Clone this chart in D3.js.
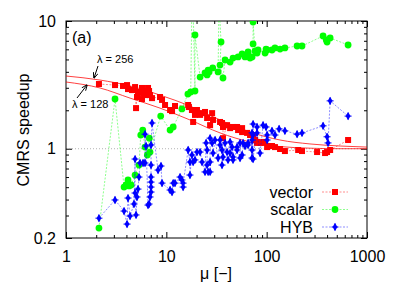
<!DOCTYPE html>
<html>
<head>
<meta charset="utf-8">
<script src="https://cdn.jsdelivr.net/npm/d3@7"></script>
<style>
  body { margin: 0; background: #fff; }
  svg { display: block; font-family: "Liberation Sans", Arial, sans-serif; }
</style>
</head>
<body>
<div id="app"></div>
<script>
// data: [mu, speedup]
const vector = [[2.13,3.21],[3.08,3.15],[3.70,3.10],[4.06,3.15],[4.15,2.93],[4.55,2.88],[4.66,2.88],[4.88,3.04],[4.99,2.08],[5.10,2.54],[5.22,2.78],[5.47,2.78],[5.72,2.99],[5.72,2.45],[5.86,2.73],[6.13,2.63],[6.28,2.83],[6.57,2.99],[6.73,2.83],[6.88,2.63],[7.20,2.49],[8.65,2.54],[9.06,2.41],[9.71,2.20],[10.9,2.01],[11.4,1.97],[12.2,2.16],[16.5,2.20],[16.8,2.12],[18.0,2.01],[18.5,1.62],[19.3,1.84],[20.2,2.01],[21.7,1.84],[22.7,1.90],[24.3,1.94],[25.5,1.74],[27.3,1.53],[28.6,1.90],[29.2,1.68],[34.3,1.62],[35.9,1.59],[36.7,1.48],[36.7,1.21],[40.3,1.53],[43.2,1.45],[46.2,1.48],[50.7,1.48],[51.9,1.40],[56.9,1.45],[56.9,1.35],[63.8,1.33],[68.3,1.28],[73.2,1.28],[76.6,1.17],[80.2,1.13],[80.2,1.11],[85.9,1.11],[92.1,1.13],[96.4,1.11],[101,1.03],[108,1.05],[113,1.05],[121,1.03],[136,0.995],[152,0.959],[206,0.977],[225,0.959],[318,0.942],[382,0.925],[400,0.942],[429,0.977],[648,1.17]];

// values above 10 are the off-scale points whose lines leave the top
const scalar = [[2.13,0.239],[3.08,2.45],[3.79,0.501],[3.97,0.520],[4.15,0.569],[4.25,0.511],[4.45,0.520],[4.88,0.622],[5.34,0.745],[5.56,1.28],[5.82,1.40],[6.13,1.03],[6.47,0.893],[6.77,1.21],[6.88,0.942],[8.79,1.80],[10.9,1.40],[11.7,1.48],[14.3,2.05],[16.4,2.68],[17.5,2.78],[18.0,14],[18.5,13],[19.3,2.83],[19.3,7.77],[21.7,3.64],[24.3,3.92],[25.5,3.78],[26.1,4.13],[26.7,3.99],[29.0,4.29],[32.8,3.99],[33.5,14],[35.1,6.85],[34.3,4.52],[36.7,3.58],[38.5,4.95],[43.2,4.77],[46.2,5.13],[51.9,5.23],[56.9,5.52],[60.9,5.23],[63.8,5.42],[65.3,5.72],[68.3,5.13],[71.5,5.23],[73.2,6.61],[73.2,9.82],[76.6,5.82],[80.2,5.61],[82.1,5.93],[96.4,5.61],[98.6,6.03],[101,5.93],[113,5.93],[121,6.15],[136,6.03],[152,6.15],[201,6.37],[225,6.37],[365,7.63],[393,7.10],[400,6.85],[429,7.36],[648,6.49]];

const hyb = [[2.13,0.286],[3.08,0.397],[3.79,0.325],[4.06,0.257],[4.15,0.411],[4.35,0.297],[4.76,0.369],[4.88,0.830],[4.88,0.450],[4.99,0.303],[5.10,0.419],[5.22,0.483],[5.34,0.600],[5.47,0.773],[5.86,0.773],[6.13,0.773],[6.13,1.30],[6.28,1.05],[6.57,0.362],[6.73,0.369],[6.88,0.419],[7.04,0.458],[7.04,0.501],[7.04,0.548],[7.04,0.600],[7.04,0.745],[7.04,1.07],[7.20,1.59],[8.27,0.681],[8.85,0.732],[9.06,0.538],[10.9,0.475],[11.4,0.458],[11.7,0.538],[12.2,0.538],[13.7,0.600],[14.3,0.569],[14.7,0.501],[14.7,0.538],[16.5,0.977],[17.2,0.787],[17.2,0.622],[18.0,0.893],[18.5,0.787],[19.3,0.817],[20.2,0.942],[21.7,0.942],[22.7,0.787],[24.3,0.658],[24.9,1.11],[25.5,0.977],[25.5,0.745],[26.1,0.658],[27.3,0.658],[27.3,0.787],[27.3,1.21],[28.6,1.11],[29.2,0.925],[30.6,1.17],[32.8,0.846],[34.3,1.07],[34.3,1.17],[35.9,0.977],[35.9,0.745],[36.7,0.861],[38.5,1.11],[40.3,0.942],[41.2,0.817],[43.2,0.925],[43.2,1.13],[45.2,1.03],[46.2,0.861],[46.2,0.817],[50.7,0.977],[50.7,1.03],[54.3,1.11],[54.3,0.846],[56.9,0.893],[58.2,1.11],[60.9,1.05],[65.3,1.11],[65.3,1.07],[71.5,1.17],[71.5,0.846],[71.5,1.33],[71.5,0.977],[73.2,1.56],[73.2,1.28],[73.2,0.830],[80.2,1.48],[80.2,1.33],[85.9,0.925],[92.1,1.53],[98.6,1.48],[101,1.28],[101,1.17],[113,1.38],[121,1.28],[133,1.43],[152,1.38],[201,1.30],[225,1.33],[365,1.51],[400,1.24],[409,1.11],[429,2.37],[648,1.80]];

// model curves
const curveMu = [1, 2.18, 4.35, 8.65, 17.2, 34.3, 68.3, 136, 270, 539, 1000];
const lambda256 = [3.71, 3.45, 3.10, 2.63, 2.16, 1.68, 1.35, 1.17, 1.09, 1.05, 1.03];
const lambda128 = [3.33, 2.99, 2.49, 2.08, 1.68, 1.33, 1.13, 1.04, 1.01, 1.0, 1.0];

const xMajor = [1, 10, 100, 1000];
const xMinor = [2,3,4,5,6,7,8,9,20,30,40,50,60,70,80,90,200,300,400,500,600,700,800,900];
const yMajor = [0.2, 1, 10];
const yMinor = [0.3,0.4,0.5,0.6,0.7,0.8,0.9,2,3,4,5,6,7,8,9];

const W = 407, H = 285;
const m = { left: 66, top: 21, right: 40, bottom: 47 };
const iw = W - m.left - m.right, ih = H - m.top - m.bottom;

const svg = d3.select("#app").append("svg").attr("width", W).attr("height", H);

const x = d3.scaleLog().domain([1, 1000]).range([0, iw]);
const y = d3.scaleLog().domain([0.2, 10]).range([ih, 0]);

const g = svg.append("g").attr("transform", `translate(${m.left},${m.top})`);

svg.append("clipPath").attr("id", "clip")
  .append("rect").attr("x", m.left).attr("y", m.top).attr("width", iw).attr("height", ih);

// axes: major and minor ticks, inward, mirrored
const fmt = (d) => String(d);
g.append("g").attr("transform", `translate(0,${ih})`)
  .call(d3.axisBottom(x).tickValues(xMajor).tickFormat(fmt).tickSize(-6).tickPadding(13));
g.append("g").attr("transform", `translate(0,${ih})`)
  .call(d3.axisBottom(x).tickValues(xMinor).tickFormat("").tickSize(-3));
g.append("g").call(d3.axisTop(x).tickValues(xMajor).tickFormat("").tickSize(-6));
g.append("g").call(d3.axisTop(x).tickValues(xMinor).tickFormat("").tickSize(-3));

g.append("g")
  .call(d3.axisLeft(y).tickValues(yMajor).tickFormat(fmt).tickSize(-6).tickPadding(10));
g.append("g").call(d3.axisLeft(y).tickValues(yMinor).tickFormat("").tickSize(-3));
g.append("g").attr("transform", `translate(${iw},0)`)
  .call(d3.axisRight(y).tickValues(yMajor).tickFormat("").tickSize(-6));
g.append("g").attr("transform", `translate(${iw},0)`)
  .call(d3.axisRight(y).tickValues(yMinor).tickFormat("").tickSize(-3));

g.selectAll(".domain").remove();
g.selectAll(".tick line").attr("stroke", "#000");
g.selectAll(".tick text").attr("font-size", 16).attr("fill", "#000")
  .attr("font-family", '"Liberation Sans", Arial, sans-serif');

// y = 1 reference line
g.append("line")
  .attr("x1", 0).attr("x2", iw).attr("y1", y(1)).attr("y2", y(1))
  .attr("stroke", "#a0a0a0").attr("stroke-width", 0.8).attr("stroke-dasharray", "1,2");

const plot = svg.append("g").attr("clip-path", "url(#clip)")
  .append("g").attr("transform", `translate(${m.left},${m.top})`);

// model curves
const curveLine = d3.line().x((d) => x(d[0])).y((d) => y(d[1])).curve(d3.curveMonotoneX);
[lambda256, lambda128].forEach((vals) => {
  plot.append("path")
    .datum(curveMu.map((mu, i) => [mu, vals[i]]))
    .attr("d", curveLine)
    .attr("fill", "none").attr("stroke", "#ff0000").attr("stroke-opacity", 0.75).attr("stroke-width", 1);
});

const dataLine = d3.line().x((d) => x(d[0])).y((d) => y(d[1]));

const series = [
  { data: vector, color: "#ff0000", shape: "square", name: "vector" },
  { data: scalar, color: "#00ff00", shape: "circle", name: "scalar" },
  { data: hyb, color: "#0000ff", shape: "diamond", name: "HYB" }
];

const drawMarker = (sel, shape, color) => {
  if (shape === "square") {
    sel.append("rect").attr("x", -3).attr("y", -3).attr("width", 6).attr("height", 6).attr("fill", color);
  } else if (shape === "circle") {
    sel.append("circle").attr("r", 3.4).attr("fill", color);
  } else {
    sel.append("path").attr("d", d3.symbol(d3.symbolDiamond, 20)()).attr("fill", color);
    sel.append("path").attr("d", "M-3.5,0H3.5M0,-3.5V3.5").attr("stroke", color).attr("stroke-width", 1);
  }
};

series.forEach((s) => {
  plot.append("path")
    .datum(s.data)
    .attr("d", dataLine)
    .attr("fill", "none").attr("stroke", s.color).attr("stroke-opacity", 0.45)
    .attr("stroke-width", 1).attr("stroke-dasharray", "2,1.5");
  plot.selectAll(null)
    .data(s.data.filter((d) => d[1] <= 10))
    .enter().append("g")
    .attr("transform", (d) => `translate(${x(d[0])},${y(d[1])})`)
    .each(function () { drawMarker(d3.select(this), s.shape, s.color); });
});

// frame
g.append("rect").attr("width", iw).attr("height", ih)
  .attr("fill", "none").attr("stroke", "#000").attr("stroke-width", 1);

// legend
series.forEach((s, i) => {
  const ly = 192 + i * 17.5;
  svg.append("text").attr("x", 313).attr("y", ly).attr("dy", "0.35em")
    .attr("text-anchor", "end").attr("font-size", 16).text(s.name);
  svg.append("line").attr("x1", 322).attr("x2", 348).attr("y1", ly).attr("y2", ly)
    .attr("stroke", s.color).attr("stroke-opacity", 0.45).attr("stroke-dasharray", "2,1.5");
  const mk = svg.append("g").attr("transform", `translate(335,${ly})`);
  drawMarker(mk, s.shape, s.color);
});

// annotations
svg.append("text").attr("x", 72).attr("y", 43).attr("font-size", 16).text("(a)");
svg.append("text").attr("x", 97).attr("y", 63).attr("font-size", 11).text("λ = 256");
svg.append("text").attr("x", 72).attr("y", 108).attr("font-size", 11).text("λ = 128");

const defs = svg.append("defs");
defs.append("marker").attr("id", "arrow").attr("viewBox", "0 0 10 10")
  .attr("refX", 9).attr("refY", 5).attr("markerWidth", 6).attr("markerHeight", 6)
  .attr("orient", "auto")
  .append("path").attr("d", "M0,1L10,5L0,9").attr("fill", "none").attr("stroke", "#000").attr("stroke-width", 1.5);

svg.append("line").attr("x1", 98).attr("y1", 66).attr("x2", 94).attr("y2", 78)
  .attr("stroke", "#000").attr("marker-end", "url(#arrow)");
svg.append("line").attr("x1", 77).attr("y1", 98).attr("x2", 87).attr("y2", 85)
  .attr("stroke", "#000").attr("marker-end", "url(#arrow)");

// axis titles
svg.append("text").attr("x", 216).attr("y", 279).attr("text-anchor", "middle")
  .attr("font-size", 16).text("μ [−]");
svg.append("text")
  .attr("transform", "translate(29,130) rotate(-90)")
  .attr("text-anchor", "middle").attr("font-size", 16).text("CMRS speedup");
</script>
</body>
</html>
